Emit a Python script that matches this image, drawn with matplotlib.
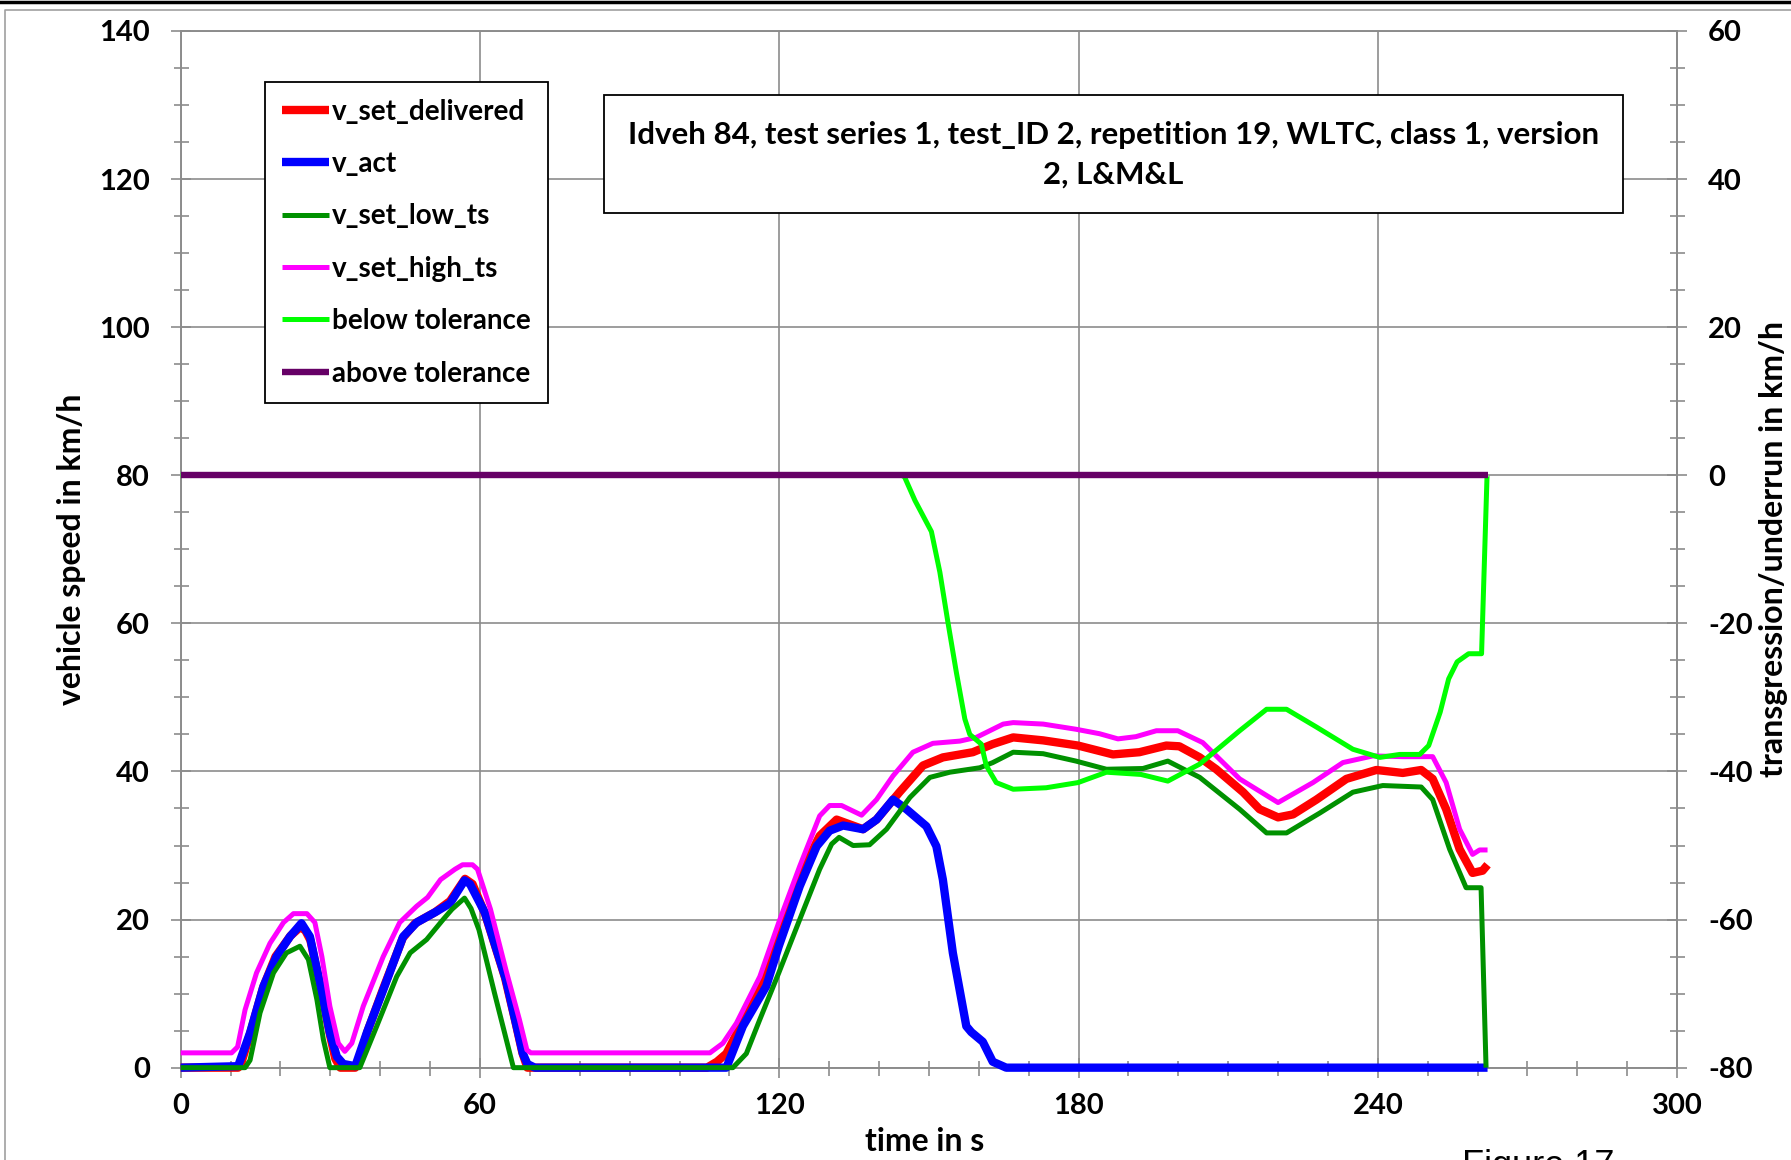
import matplotlib
matplotlib.use("Agg")
from matplotlib import pyplot as plt
from matplotlib.lines import Line2D
from matplotlib.patches import Rectangle
from matplotlib.ticker import MultipleLocator

plt.rcParams['font.family'] = ['Lato', 'DejaVu Sans']
plt.rcParams['font.weight'] = 'bold'
plt.rcParams['axes.unicode_minus'] = False

# ----------------------------------------
# Data
# ----------------------------------------
title_lines = ["Idveh 84, test series 1, test_ID 2, repetition 19, WLTC, class 1, version",
               "2, L&M&L"]

t_set = [0, 11.5, 12, 14, 16.5, 19, 22, 24, 25, 26, 28, 30, 31, 32, 35, 36, 37.5, 40.5,
         44.5, 47, 51, 54, 55.5, 57, 58.5, 61, 63, 65, 67, 68.5, 69.5, 105.5, 107.5,
         109.4, 112.7, 116.1, 119.9, 124.1, 128.1, 131.5, 136.8, 139.5, 144.1, 148.8,
         152.8, 158.8, 162.8, 166.9, 172.9, 179.9, 186.9, 192.2, 197.6, 200.2, 204.3,
         207.6, 213, 216.3, 220, 223, 227.7, 233.7, 239.7, 245, 248.7, 251, 253.7,
         256.4, 259, 261, 262]
v_set = [0, 0, 0.3, 4.8, 10.8, 15, 17.8, 19, 18.5, 17.2, 11, 4.2, 1.2, 0, 0, 1.5, 5, 10.5,
         17.5, 19.5, 21, 22.5, 24, 25.5, 24.8, 20.8, 16.5, 12.2, 6.5, 2, 0, 0, 0.8,
         1.9, 6.2, 10.8, 18, 25.9, 31.3, 33.5, 32.2, 33.5, 37.2, 40.8,
         41.9, 42.6, 43.7, 44.6, 44.2, 43.5, 42.3, 42.6, 43.5, 43.4, 41.9,
         40.3, 37.2, 34.9, 33.8, 34.2, 36.2, 39, 40.2, 39.8, 40.2, 39, 34.9,
         29.5, 26.3, 26.6, 27.4]

t_act = [0, 11.5, 13.9, 16.6, 19.2, 21.9, 24.2, 25.9, 27.9, 29.9, 31.3, 32.6, 35, 37.3,
         40.6, 44.6, 47.3, 51.3, 54, 55.5, 56.9, 58, 61, 65.2, 68.6, 69.5, 71, 109.4,
         112.7, 117.4, 119.9, 124.1, 127.5, 130.1, 132.8, 136.8, 139.5, 142.8, 145.5,
         149.5, 151.5, 152.8, 154.8, 157.5, 158.5, 160.8, 162.8, 165.5, 262]
v_act = [0, 0.2, 4.7, 11, 15, 17.7, 19.5, 17.7, 11.4, 4.7, 1.5, 0.5, 0.2, 4.7,
         10.5, 17.7, 19.6, 21.1, 22.2, 23.8, 25.3, 24.8, 20.9, 11.9, 1.9, 0.5, 0, 0,
         5.6, 11, 16.4, 24.5, 29.9, 32, 32.7, 32.2, 33.5, 36.2, 34.9,
         32.6, 29.9, 25.4, 15.5, 5.6, 4.8, 3.5, 0.8, 0, 0]

t_low = [0, 12.9, 13.9, 15.9, 18.6, 21.2, 23.9, 25.6, 27.3, 28.6, 29.9, 35.9, 39.3, 43.3,
         46, 49.3, 52.6, 54.4, 56.9, 58.2, 59.8, 62.9, 66.7, 110.7, 113.4, 116.1, 119.9,
         124.1, 128.1, 130.5, 132, 134.8, 138.1, 141.5, 146.2, 150.2, 154.2, 160.2,
         162.8, 166.9, 172.9, 179.5, 185.6, 192.9, 197.9, 204.3, 212.3, 217.7, 221.7,
         228.4, 235, 241, 248.7, 251, 254.4, 257.7, 260.7, 261.7]
v_low = [0, 0, 1, 7.4, 12.8, 15.5, 16.4, 14.6, 9.2, 3.8, 0, 0, 5.6, 12.3,
         15.5, 17.3, 20, 21.4, 22.9, 21.5, 18.6, 10.1, 0, 0, 1.9, 6.5, 12.8,
         20, 26.8, 30.2, 31.1, 30, 30.1, 32.2, 36.5, 39.2, 39.9, 40.5,
         41.2, 42.6, 42.4, 41.4, 40.3, 40.4, 41.4, 39.2, 34.9, 31.7, 31.7,
         34.4, 37.2, 38.1, 37.9, 36.2, 29.5, 24.3, 24.3, 0]

t_high = [0, 10.2, 11.4, 12.9, 15.2, 17.9, 20.6, 22.6, 25.3, 26.9, 28.3, 29.9, 31.6, 32.9,
          34.3, 36.6, 40.6, 43.9, 47.3, 49.5, 52.1, 55, 56.5, 58.5, 59.5, 62.1, 65.2,
          67.9, 69.4, 70.2, 106.1, 108.7, 111.4, 116.1, 119.9, 124.1, 128.1, 130.1,
          132.5, 136.5, 139.5, 142.8, 146.8, 150.8, 156.2, 159.5, 164.9, 166.9, 172.9,
          179.5, 184.2, 187.9, 191.5, 195.6, 199.9, 204.9, 212.3, 220, 227, 233, 239,
          245, 251, 253.7, 256.4, 259, 260.4, 262]
v_high = [2, 2, 2.8, 7.8, 12.8, 16.8, 19.6, 20.8, 20.8, 19.6, 15, 8.3, 3.3, 2.2,
          3.3, 8.3, 15, 19.6, 21.8, 23, 25.4, 26.8, 27.4, 27.4, 26.8, 21.4, 13.2,
          6.5, 2.4, 2, 2, 3.3, 6, 12.3, 19.6, 27.2, 34, 35.4,
          35.4, 34.1, 36.2, 39.4, 42.6, 43.8, 44.1, 44.6, 46.4, 46.6, 46.4,
          45.7, 45.1, 44.4, 44.7, 45.5, 45.5, 43.9, 39, 35.8, 38.5, 41.2, 42.1,
          42, 42, 38.5, 32.2, 28.8, 29.4, 29.4]

# transgression / underrun (right axis)
t_below = [0, 144.5, 145.1, 147.2, 150.5, 152.2, 153.8, 155.5, 157.2, 158.2, 160.5, 161.5,
           163.5, 166.9, 173.5, 179.9, 185.6, 192.5, 197.9, 204.3, 212.3, 217.7, 221.7,
           227.7, 235, 240.4, 244.4, 248.4, 250.2, 252.5, 254.2, 255.9, 258.2, 260.8,
           261.9, 262]
d_below = [0, 0, -0.2, -3.4, -7.6, -13.1, -19.8, -26.6, -32.9, -35, -36.3, -39.2,
           -41.5, -42.4, -42.2, -41.5, -40.1, -40.4, -41.3, -39, -34.5, -31.6, -31.6,
           -34, -37, -38.1, -37.7, -37.7, -36.5, -32, -27.5, -25.2, -24.1, -24.1,
           0, 0]

t_above = [0, 262]
d_above = [0, 0]

# ----------------------------------------
# Figure and axes
# ----------------------------------------
grey = '#8c8c8c'
fig = plt.figure(figsize=(17.91, 11.6), dpi=100)
ax = fig.add_axes([0.1009, 0.0796, 0.8355, 0.8937])
ax2 = ax.twinx()

style = dict(zorder=3, clip_on=False, solid_joinstyle='round', solid_capstyle='butt')
l1, = ax.plot(t_set, v_set, color='#ff0000', lw=6, label='v_set_delivered', **style)
l2, = ax.plot(t_act, v_act, color='#0000ff', lw=6, label='v_act', **style)
l3, = ax.plot(t_low, v_low, color='#009100', lw=3.6, label='v_set_low_ts', **style)
l4, = ax.plot(t_high, v_high, color='#ff00ff', lw=3.6, label='v_set_high_ts', **style)
l5, = ax2.plot(t_below, d_below, color='#00ff00', lw=3.6, label='below tolerance', **style)
l6, = ax2.plot(t_above, d_above, color='#660066', lw=4.6, label='above tolerance',
               zorder=4, clip_on=False, solid_capstyle='butt')

ax.set_xlim(0, 300)
ax.set_ylim(0, 140)
ax2.set_ylim(-80, 60)

ax.xaxis.set_major_locator(MultipleLocator(60))
ax.xaxis.set_minor_locator(MultipleLocator(10))
ax.yaxis.set_major_locator(MultipleLocator(20))
ax.yaxis.set_minor_locator(MultipleLocator(5))
ax2.yaxis.set_major_locator(MultipleLocator(20))
ax2.yaxis.set_minor_locator(MultipleLocator(5))

for a in (ax, ax2):
    a.tick_params(which='major', direction='inout', length=14.4, width=1.2,
                  color=grey, labelsize=21, pad=15)
    a.tick_params(which='minor', direction='inout', length=10.8, width=1.2, color=grey)
ax.tick_params(axis='x', pad=11)

ax.grid(which='major', color=grey, lw=1.2)
for s in ax.spines.values():
    s.set_color(grey)
    s.set_linewidth(1.4)
for k in ('left', 'top', 'bottom'):
    ax2.spines[k].set_visible(False)
ax2.spines['right'].set_color(grey)
ax2.spines['right'].set_linewidth(1.4)

# ----------------------------------------
# Axis labels
# ----------------------------------------
ax.set_xlabel('time in s', fontsize=23, fontweight='bold', va='center')
ax.xaxis.set_label_coords(0.497, -0.0717)
ax.set_ylabel('vehicle speed in km/h', fontsize=23, fontweight='bold', va='center')
ax.yaxis.set_label_coords(-0.0733, 0.5)
ax2.set_ylabel('transgression/underrun in km/h', fontsize=23, fontweight='bold',
               va='center', rotation=90)
ax2.yaxis.set_label_coords(1.0642, 0.5)

# ----------------------------------------
# Legend and title box
# ----------------------------------------
handles = [l1, l2, l3, l4, l5, l6]
leg = ax2.legend(handles, [h.get_label() for h in handles],
                 loc='upper left', bbox_to_anchor=(0.0563, 0.9508),
                 bbox_transform=ax2.transAxes, borderaxespad=0, fancybox=False,
                 edgecolor='black', framealpha=1, prop=dict(size=20, weight='bold'),
                 handlelength=1.7, handletextpad=0.12, labelspacing=0.95, borderpad=0.6)
leg.get_frame().set_linewidth(1.3)
leg.set_zorder(10)

ax2.add_patch(Rectangle((0.2829, 0.8244), 0.6810, 0.1139, transform=ax2.transAxes,
                        facecolor='white', edgecolor='black', lw=1.3, zorder=10))
ax2.text(0.6234, 0.8997, title_lines[0], transform=ax2.transAxes, ha='center',
         va='center', fontsize=22.5, fontweight='bold', zorder=11)
ax2.text(0.6234, 0.8611, title_lines[1], transform=ax2.transAxes, ha='center',
         va='center', fontsize=22.5, fontweight='bold', zorder=11)

# ----------------------------------------
# Page frame and figure caption
# ----------------------------------------
fig.add_artist(Line2D([0, 1], [0.9985, 0.9985], transform=fig.transFigure, color='black', lw=2.5))
fig.add_artist(Line2D([0.003, 0.003, 1], [0, 0.9912, 0.9912], transform=fig.transFigure,
                      color='#a0a0a0', lw=1.2))
fig.text(0.8163, -0.0138, 'Figure 17', fontsize=26, fontweight='normal',
         family='Liberation Sans', va='baseline')

# bold tick labels (set after a draw so every tick exists)
fig.canvas.draw()
for a in (ax, ax2):
    for tk in a.xaxis.get_major_ticks() + a.yaxis.get_major_ticks():
        tk.label1.set_fontweight('bold')
        tk.label2.set_fontweight('bold')

fig.savefig('out.png', dpi=100)
